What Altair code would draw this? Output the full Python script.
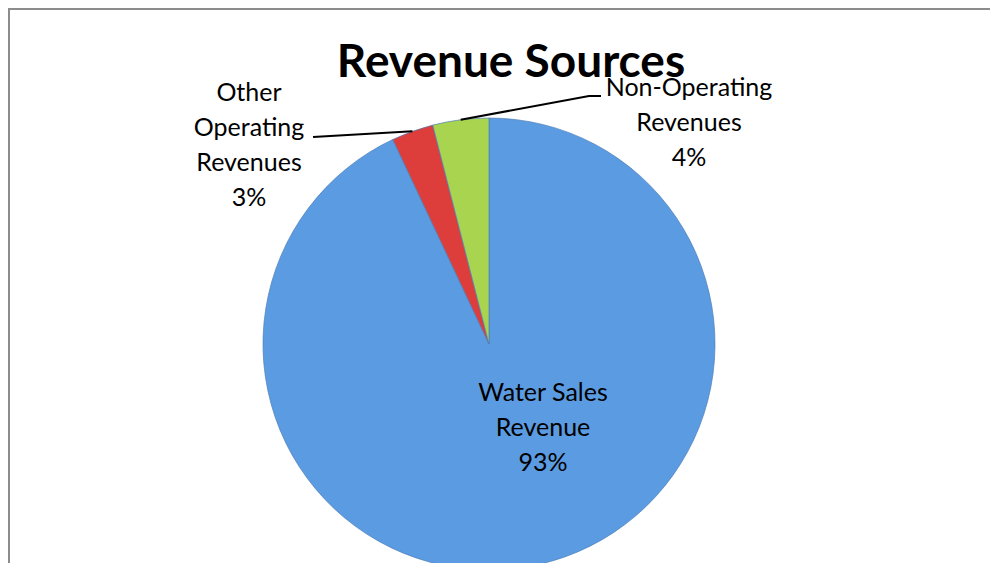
import math
import altair as alt
import pandas as pd

# ---- data ----
categories = ["Water Sales Revenue", "Other Operating Revenues", "Non-Operating Revenues"]
label_lines = [["Water Sales", "Revenue"], ["Other", "Operating", "Revenues"], ["Non-Operating", "Revenues"]]
values = [93, 3, 4]
title_text = "Revenue Sources"

# ---- layout / style (not data) ----
W, H = 982, 555
CX, CY, R = 481, 336, 226
colors = ["#5B9BE1", "#DD3E3B", "#A8D44F"]
label_pos = [(535, 385), (241, 85), (681, 80)]
leader_ends = [None, [(305, 129)], [(581, 88), (593, 88)]]
FONT = "Lato"

total = sum(values)
pie_df = pd.DataFrame({"category": categories, "value": values, "idx": list(range(len(values)))})

# labels
lab_rows = []
for i, (c, v) in enumerate(zip(categories, values)):
    txt = "\n".join(label_lines[i] + [f"{round(100 * v / total)}%"])
    lab_rows.append({"category": c, "text": txt, "px": label_pos[i][0], "py": label_pos[i][1]})
lab_df = pd.DataFrame(lab_rows)

# leader lines: start at slice mid-angle on the pie edge
line_rows = []
cum = 0
for i, v in enumerate(values):
    mid = (cum + v / 2) / total * 2 * math.pi
    cum += v
    if leader_ends[i] is None:
        continue
    sx = CX + R * math.sin(mid)
    sy = CY - R * math.cos(mid)
    pts = [(sx, sy)] + leader_ends[i]
    for k, (px, py) in enumerate(pts):
        line_rows.append({"cat": categories[i], "k": k, "px": px, "py": py})
line_df = pd.DataFrame(line_rows)

one = pd.DataFrame({"a": [0]})

frame_top = alt.Chart(one).mark_rule(color="#8c8c8c", strokeWidth=2).encode(
    x=alt.value(1), x2=alt.value(W), y=alt.value(1))
frame_left = alt.Chart(one).mark_rule(color="#8c8c8c", strokeWidth=2).encode(
    x=alt.value(1), y=alt.value(0), y2=alt.value(H))

pie = alt.Chart(pie_df).mark_arc(radius=R, stroke="#4f7fb8", strokeWidth=1, strokeOpacity=0.7).encode(
    theta=alt.Theta("value:Q", stack=True),
    order=alt.Order("idx:Q"),
    color=alt.Color("category:N", scale=alt.Scale(domain=categories, range=colors), legend=None),
    x=alt.value(CX), y=alt.value(CY),
)

leaders = alt.Chart(line_df).mark_line(color="black", strokeWidth=2).encode(
    x=alt.X("px:Q", scale=None), y=alt.Y("py:Q", scale=None),
    detail="cat:N", order="k:Q",
)

labels = alt.Chart(lab_df).mark_text(
    font=FONT, fontSize=25, color="black", lineBreak="\n", lineHeight=35,
    align="center", baseline="middle",
).encode(x=alt.X("px:Q", scale=None), y=alt.Y("py:Q", scale=None), text="text:N")

title = alt.Chart(pd.DataFrame({"t": [title_text]})).mark_text(
    font=FONT, fontSize=46, fontWeight="bold", color="black", align="center", baseline="alphabetic",
).encode(x=alt.value(503), y=alt.value(69), text="t:N")

chart = alt.layer(frame_top, frame_left, pie, leaders, labels, title).properties(
    width=W, height=H, autosize=alt.AutoSizeParams(type="none"), padding=0,
).configure_view(stroke=None).configure(background="white")

chart.save("out.html", embed_options={"renderer": "svg", "actions": False})
